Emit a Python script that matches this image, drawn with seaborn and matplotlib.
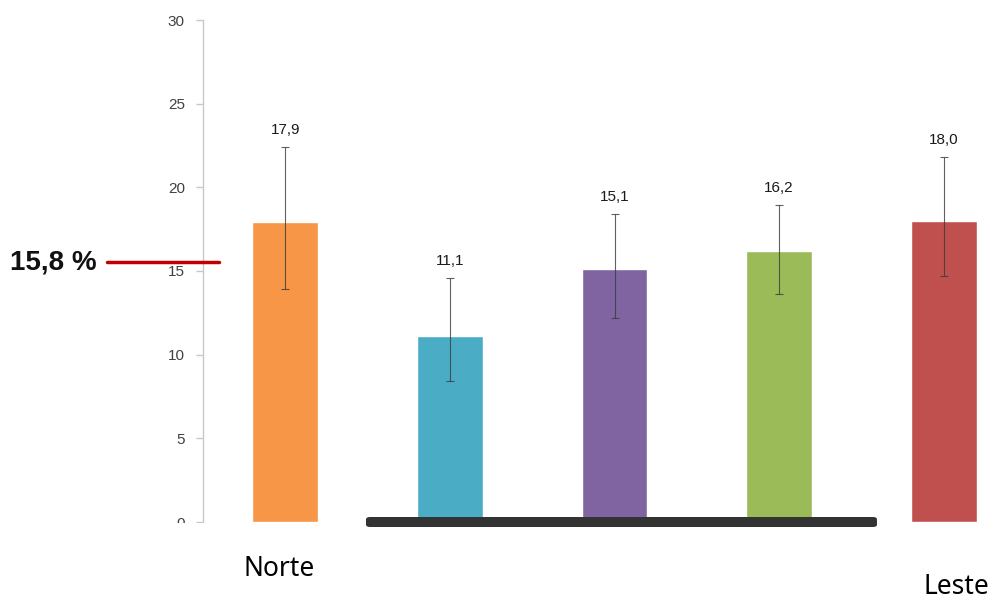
import numpy as np
import pandas as pd
import matplotlib
matplotlib.use("Agg")
import matplotlib.pyplot as plt
import seaborn as sns
from matplotlib.patches import FancyBboxPatch, Rectangle
from matplotlib.lines import Line2D

# ---- data ----
regions = ["Norte", "Nordeste", "Sudeste", "Sul", "Leste"]
values = [17.9, 11.1, 15.1, 16.2, 18.0]
ci_low = [13.9, 8.4, 12.2, 13.6, 14.7]
ci_high = [22.4, 14.6, 18.4, 18.95, 21.8]
value_labels = ["17,9", "11,1", "15,1", "16,2", "18,0"]
colors = ["#F79646", "#4BACC6", "#8064A2", "#9BBB59", "#C0504D"]
yticks = [0, 5, 10, 15, 20, 25, 30]
ref_label = "15,8 %"
shown_labels = {"Norte": (279, 569), "Leste": (956, 587)}

df = pd.DataFrame({"region": regions, "value": values})

sns.set_style("white")
plt.rcParams["font.family"] = ["Liberation Sans", "DejaVu Sans"]

W, H = 994, 602
fig = plt.figure(figsize=(W / 100, H / 100), dpi=100)
ax = fig.add_axes([203 / W, 1 - 522 / H, (1026 - 203) / W, (522 - 20) / H])

sns.barplot(data=df, x="region", y="value", hue="region", palette=colors,
            width=0.4, legend=False, ax=ax, saturation=1, errorbar=None)

x = np.arange(len(regions))
vals = np.array(values)
lo = vals - np.array(ci_low)
hi = np.array(ci_high) - vals
ax.errorbar(x, vals, yerr=[lo, hi], fmt="none", ecolor="#3a3a3a", elinewidth=0.8,
            capsize=3, capthick=0.8, alpha=0.8, zorder=5)

for xi, top, lab in zip(x, ci_high, value_labels):
    ax.annotate(lab, (xi, top), xytext=(0, 7), textcoords="offset points",
                ha="center", va="bottom", fontsize=11, color="#1a1a1a")

ax.set_xlim(-0.5, len(regions) - 0.5)
ax.set_ylim(0, 30)
ax.set_yticks(yticks)
ax.set_yticklabels([str(t) for t in yticks], fontsize=11, color="#404040")
ax.set_xticks([])
ax.set_xlabel("")
ax.set_ylabel("")
for s in ["top", "right", "bottom"]:
    ax.spines[s].set_visible(False)
ax.spines["left"].set_color("#C8C8C8")
ax.spines["left"].set_linewidth(1)
ax.tick_params(axis="y", left=True, length=5, color="#C8C8C8", pad=8, width=1)

# crop below the chart image
fig.add_artist(Rectangle((0, 0), 1, 1 - 523 / H, transform=fig.transFigure,
                         facecolor="white", edgecolor="none", zorder=10))

# dark bar overlay
fig.add_artist(FancyBboxPatch((366 / W, 1 - 527 / H), (877 - 366) / W, 10 / H,
                              boxstyle="round,pad=0,rounding_size=0.004",
                              transform=fig.transFigure, facecolor="#333333",
                              edgecolor="none", zorder=11))

# reference line and label
fig.add_artist(Line2D([107 / W, 219 / W], [1 - 262 / H, 1 - 262 / H],
                      transform=fig.transFigure, color="#C00000", lw=2.5, zorder=12))
fig.text(10 / W, 1 - 262 / H, ref_label, fontsize=20, fontweight="bold",
         ha="left", va="center", color="#111111", zorder=12)

for name, (px, py) in shown_labels.items():
    fig.text(px / W, 1 - py / H, name, fontsize=19, family=["Noto Sans", "DejaVu Sans"],
             ha="center", va="center", color="black", zorder=12)

fig.savefig("out.png", dpi=100)
